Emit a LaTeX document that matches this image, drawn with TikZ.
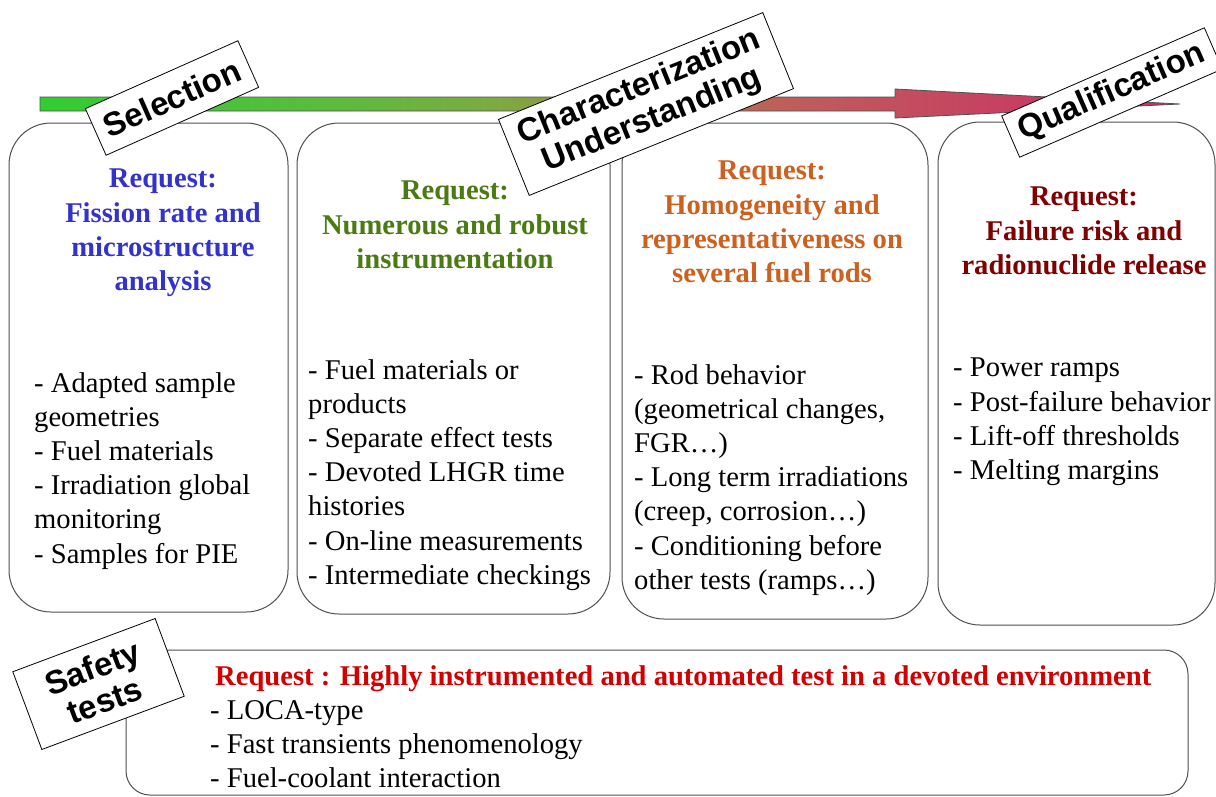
\documentclass[tikz,border=0pt]{standalone}
\usepackage{fontspec}
\setmainfont{Liberation Serif}
\newfontfamily\labelfont{Liberation Sans}
\definecolor{hblue}{RGB}{51,51,204}
\definecolor{hgreen}{RGB}{74,122,20}
\definecolor{horange}{RGB}{204,96,30}
\definecolor{hdred}{RGB}{128,0,0}
\definecolor{hred}{RGB}{210,0,0}
\definecolor{edge}{RGB}{80,80,80}
\definecolor{ca}{RGB}{51,204,51}
\definecolor{cb}{RGB}{85,190,60}
\definecolor{cc}{RGB}{125,170,65}
\definecolor{cd}{RGB}{165,125,75}
\definecolor{ce}{RGB}{190,95,90}
\definecolor{cf}{RGB}{205,40,105}
\pgfdeclarehorizontalshading{arrowshade}{100bp}{color(0bp)=(ca); color(25bp)=(ca); color(36.4bp)=(cb); color(45.2bp)=(cc); color(51.7bp)=(cd); color(57.5bp)=(ce); color(75bp)=(cf); color(100bp)=(cf)}
\begin{document}
\begin{tikzpicture}[x=1pt,y=-1pt,
  rbox/.style={draw=edge, line width=1pt, rounded corners=42pt, inner sep=0pt},
  tag/.style={draw=black, line width=0.8pt, fill=white, inner sep=0pt, font=\labelfont\bfseries\fontsize{33}{35}\selectfont, align=center},
  head/.style={inner sep=0pt, align=center, font=\bfseries\fontsize{28.6}{34.2}\selectfont, anchor=north},
  body/.style={inner sep=0pt, align=left, font=\fontsize{28.6}{34.2}\selectfont, anchor=north west}]
\clip (0,0) rectangle (1216,796);
\fill[white] (0,0) rectangle (1216,796);
% progress arrow
\shadedraw[shading=arrowshade, draw=edge, line width=0.8pt]
  (40,97) -- (895,97) -- (895,89) -- (1180,104) -- (895,118) -- (895,111) -- (40,111) -- cycle;
% boxes
\node[rbox, minimum width=279, minimum height=489] (b1) at (148.5,367.5) {};
\node[rbox, minimum width=313, minimum height=491] (b2) at (453.5,368.5) {};
\node[rbox, minimum width=306, minimum height=496] (b3) at (775,371) {};
\node[rbox, minimum width=277, minimum height=503] (b4) at (1076.5,373.5) {};
\node[rbox, rounded corners=24pt, minimum width=1062, minimum height=145] (b5) at (657,722.5) {};
% headings
\node[head, text=hblue] (h1) at (163,169) {Request:\\Fission rate and\\microstructure\\analysis};
\node[head, text=hgreen] (h2) at (455,181) {Request:\\Numerous and robust\\instrumentation};
\node[head, text=horange] (h3) at (772,161) {Request:\\Homogeneity and\\representativeness on\\several fuel rods};
\node[head, text=hdred] (h4) at (1084,187) {Request:\\Failure risk and\\radionuclide release};
\node[head, text=hred, anchor=north west] (h5) at (215,665) {Request : Highly instrumented and automated test in a devoted environment};
% bodies
\node[body] (t1) at (34,372) {- Adapted sample\\geometries\\- Fuel materials\\- Irradiation global\\monitoring\\- Samples for PIE};
\node[body] (t2) at (308,359) {- Fuel materials or\\products\\- Separate effect tests\\- Devoted LHGR time\\histories\\- On-line measurements\\- Intermediate checkings};
\node[body] (t3) at (634,364) {- Rod behavior\\(geometrical changes,\\FGR…)\\- Long term irradiations\\(creep, corrosion…)\\- Conditioning before\\other tests (ramps…)};
\node[body] (t4) at (953,358) {- Power ramps\\- Post-failure behavior\\- Lift-off thresholds\\- Melting margins};
\node[body] (t5) at (210,700) {- LOCA-type\\- Fast transients phenomenology\\- Fuel-coolant interaction};
% phase tags
\node[tag, rotate=24, minimum width=167, minimum height=51] (sel) at (172,98) {Selection};
\node[tag, rotate=22, minimum width=285, minimum height=82] (char) at (646,104) {Characterization\\Understanding};
\node[tag, rotate=23.5, minimum width=221, minimum height=45] (qual) at (1112,92.5) {Qualification};
\node[tag, rotate=20.5, minimum width=152, minimum height=83] (safe) at (98.5,684) {Safety\\tests};
\end{tikzpicture}
\end{document}
